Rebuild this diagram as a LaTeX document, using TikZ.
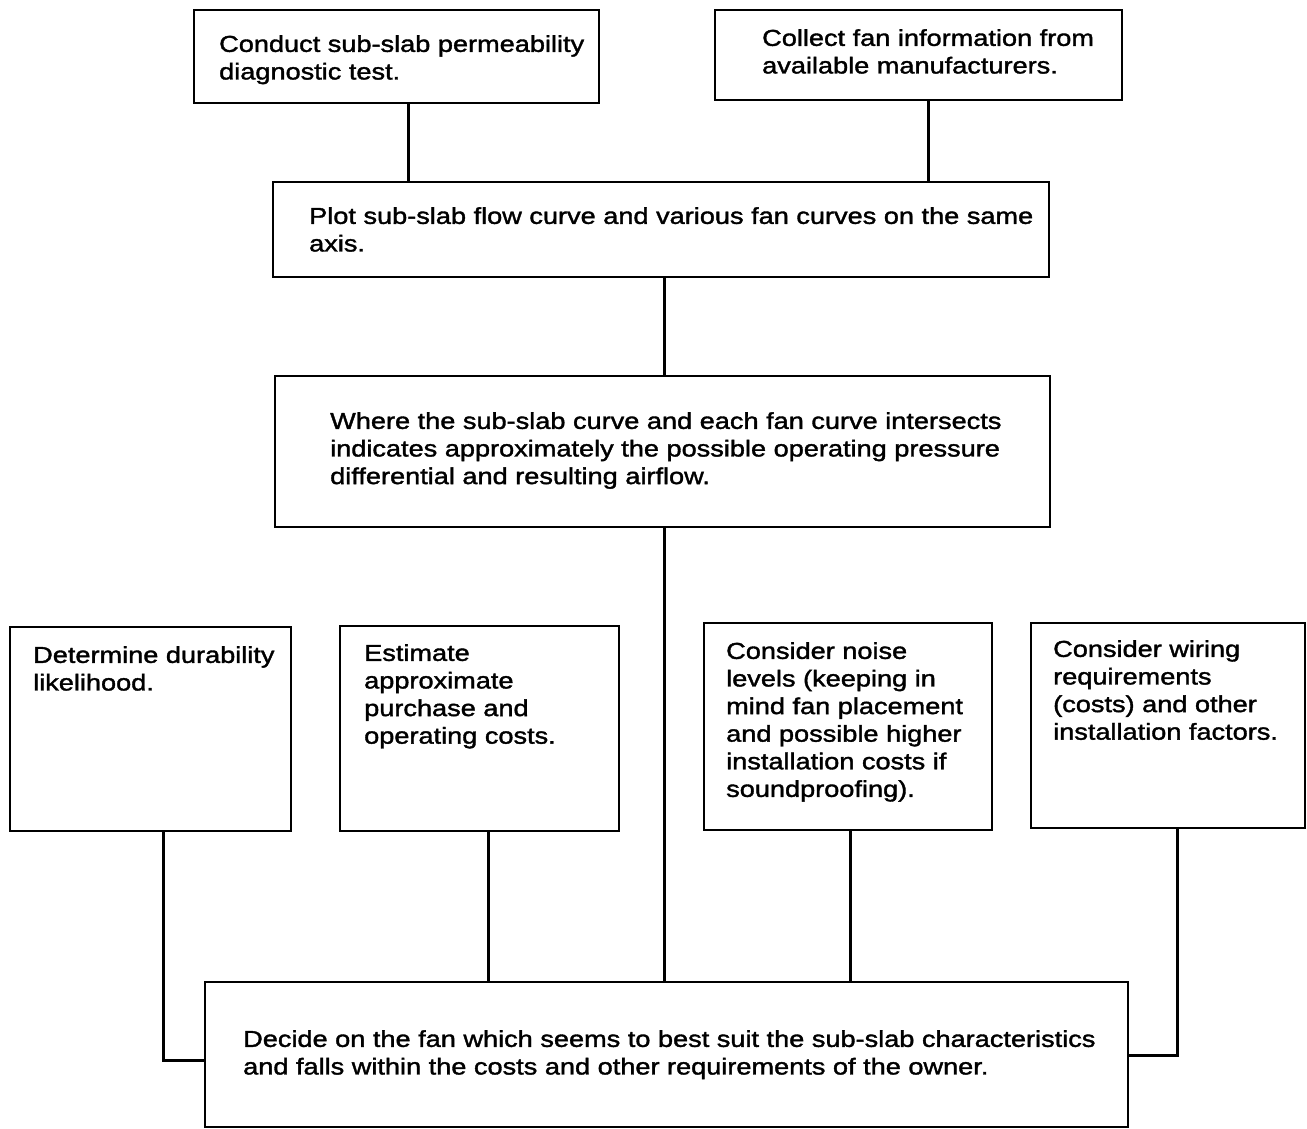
\documentclass[tikz,border=0pt]{standalone}
\usepackage{fontspec}
\setmainfont{Liberation Sans}[FakeStretch=1.18,FakeBold=1.6]
\usetikzlibrary{fit}
\begin{document}
\begin{tikzpicture}[x=1pt,y=-1pt,
  box/.style={draw, line width=2.8pt, inner sep=0pt, rectangle},
  txt/.style={anchor=north west, inner sep=0pt, align=left, font=\fontsize{23}{27.6}\selectfont},
  conn/.style={line width=3pt}]
\useasboundingbox (0,0) rectangle (1307,1129);
% boxes
\node[box, fit={(194,10) (599,103)}] (A) {};
\node[box, fit={(715,10) (1122,100)}] (B) {};
\node[box, fit={(273,182) (1049,277)}] (C) {};
\node[box, fit={(275,376) (1050,527)}] (D) {};
\node[box, fit={(10,627) (291,831)}] (E) {};
\node[box, fit={(340,626) (619,831)}] (F) {};
\node[box, fit={(704,623) (992,830)}] (G) {};
\node[box, fit={(1031,623) (1305,828)}] (H) {};
\node[box, fit={(205,982) (1128,1127)}] (Z) {};
% texts
\node[txt] (At) at (219,35) {Conduct sub-slab permeability\\diagnostic test.};
\node[txt] (Bt) at (762,29) {Collect fan information from\\available manufacturers.};
\node[txt] (Ct) at (309,207) {Plot sub-slab flow curve and various fan curves on the same\\axis.};
\node[txt] (Dt) at (330,412) {Where the sub-slab curve and each fan curve intersects\\indicates approximately the possible operating pressure\\differential and resulting airflow.};
\node[txt] (Et) at (33,646) {Determine durability\\likelihood.};
\node[txt] (Ft) at (364,644) {Estimate\\approximate\\purchase and\\operating costs.};
\node[txt] (Gt) at (726,642) {Consider noise\\levels (keeping in\\mind fan placement\\and possible higher\\installation costs if\\soundproofing).};
\node[txt] (Ht) at (1053,640) {Consider wiring\\requirements\\(costs) and other\\installation factors.};
\node[txt] (Zt) at (243,1030) {Decide on the fan which seems to best suit the sub-slab characteristics\\and falls within the costs and other requirements of the owner.};
% connector guides
\coordinate (xa) at (408,0);
\coordinate (xb) at (928,0);
\coordinate (xc) at (664,0);
\coordinate (xe) at (163,0);
\coordinate (xf) at (488,0);
\coordinate (xg) at (850,0);
\coordinate (xh) at (1177,0);
\coordinate (ye) at (0,1060);
\coordinate (yh) at (0,1055);
% connectors
\draw[conn] (A.south -| xa) -- (C.north -| xa);
\draw[conn] (B.south -| xb) -- (C.north -| xb);
\draw[conn] (C.south -| xc) -- (D.north -| xc);
\draw[conn] (D.south -| xc) -- (Z.north -| xc);
\draw[conn] (F.south -| xf) -- (Z.north -| xf);
\draw[conn] (G.south -| xg) -- (Z.north -| xg);
\draw[conn] (E.south -| xe) |- (Z.west |- ye);
\draw[conn] (H.south -| xh) |- (Z.east |- yh);
\end{tikzpicture}
\end{document}
